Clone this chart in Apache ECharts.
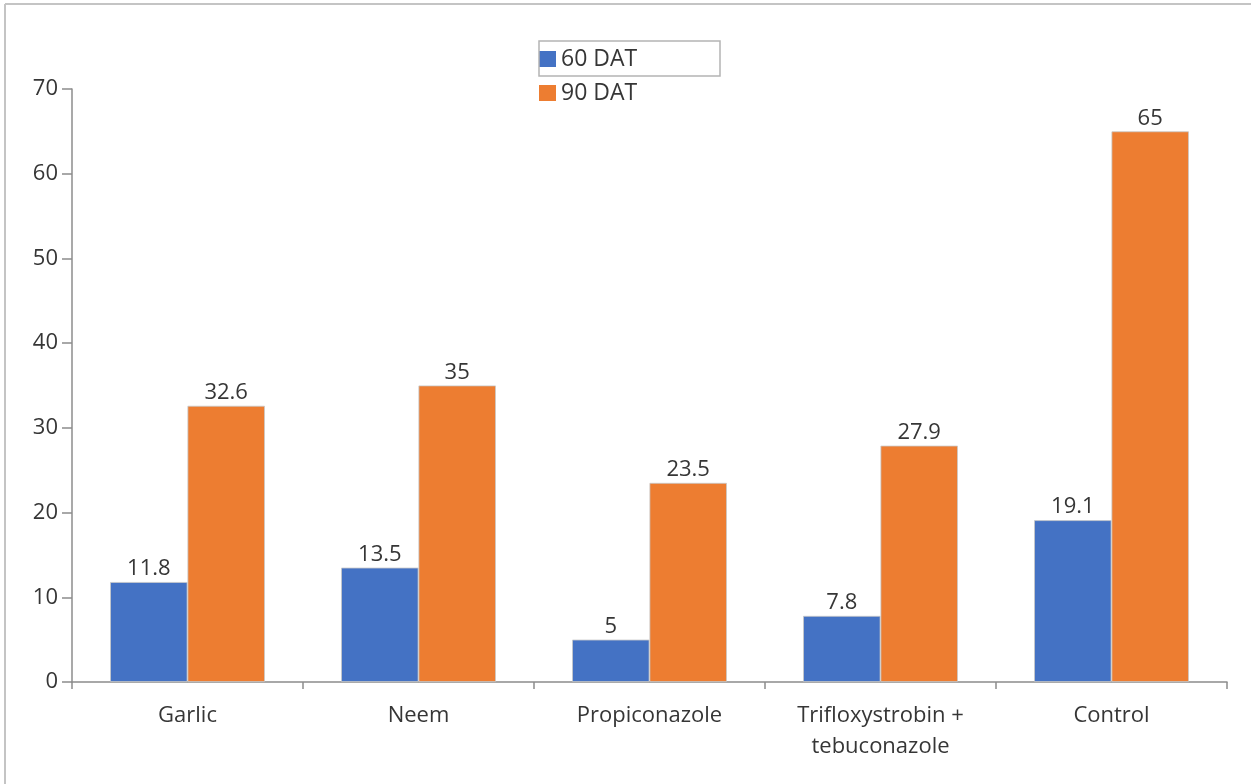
<!DOCTYPE html>
<html>
<head>
<meta charset="utf-8">
<script src="https://cdn.jsdelivr.net/npm/echarts@6/dist/echarts.min.js"></script>
<style>
  html, body { margin: 0; padding: 0; background: #fff; }
  #chart { width: 1251px; height: 784px; }
</style>
</head>
<body>
<div id="chart"></div>
<script>
// Treatments and disease readings at two sampling dates
const categories = ['Garlic', 'Neem', 'Propiconazole', 'Trifloxystrobin +\ntebuconazole', 'Control'];
const dat60 = [11.8, 13.5, 5, 7.8, 19.1];
const dat90 = [32.6, 35, 23.5, 27.9, 65];
const seriesNames = ['60 DAT', '90 DAT'];

const FONT = '"Open Sans", "Noto Sans", sans-serif';
const TEXT = '#363636';
const AXIS = '#8c8c8c';
const FS = 22;

const chart = echarts.init(document.getElementById('chart'), null, { renderer: 'canvas' });

const labelStyle = {
  show: true,
  position: 'top',
  distance: 2,
  color: TEXT,
  fontFamily: FONT,
  fontSize: FS
};

chart.setOption({
  animation: false,
  backgroundColor: '#ffffff',
  grid: { left: 72, right: 24, top: 89, bottom: 102, containLabel: false },
  legend: {
    orient: 'vertical',
    left: 539,
    top: 47,
    padding: 0,
    itemGap: 10,
    itemWidth: 17,
    itemHeight: 16,
    icon: 'rect',
    data: seriesNames,
    itemStyle: { borderWidth: 0 },
    textStyle: { color: TEXT, fontFamily: FONT, fontSize: 23, lineHeight: 24, padding: [0, 0, 0, 0] }
  },
  xAxis: {
    type: 'category',
    data: categories,
    axisLine: { show: true, lineStyle: { color: AXIS, width: 1.5 } },
    axisTick: { show: true, length: 7, alignWithLabel: false, lineStyle: { color: AXIS, width: 1.5 } },
    axisLabel: { color: TEXT, fontFamily: FONT, fontSize: FS, margin: 18, lineHeight: 31, interval: 0 },
    splitLine: { show: false }
  },
  yAxis: {
    type: 'value',
    min: 0,
    max: 70,
    interval: 10,
    axisLine: { show: true, lineStyle: { color: AXIS, width: 1.5 } },
    axisTick: { show: true, length: 10, lineStyle: { color: AXIS, width: 1.5 } },
    axisLabel: { color: TEXT, fontFamily: FONT, fontSize: FS, margin: 14 },
    splitLine: { show: false }
  },
  series: [
    {
      name: seriesNames[0],
      type: 'bar',
      data: dat60,
      barGap: '0%',
      barCategoryGap: '33%',
      itemStyle: { color: '#4472C4', borderColor: '#c8c8c8', borderWidth: 0.8 },
      label: labelStyle
    },
    {
      name: seriesNames[1],
      type: 'bar',
      data: dat90,
      barGap: '0%',
      barCategoryGap: '33%',
      itemStyle: { color: '#ED7D31', borderColor: '#c8c8c8', borderWidth: 0.8 },
      label: labelStyle
    }
  ],
  graphic: [
    // frame lines along the top and left edges
    { type: 'line', shape: { x1: 5, y1: 4, x2: 1251, y2: 4 }, style: { stroke: '#c4c4c4', lineWidth: 2 }, silent: true },
    { type: 'line', shape: { x1: 5, y1: 4, x2: 5, y2: 784 }, style: { stroke: '#c4c4c4', lineWidth: 2 }, silent: true },
    // box around the first legend entry
    { type: 'rect', shape: { x: 539, y: 41, width: 181, height: 35 }, style: { fill: 'none', stroke: '#b4b4b4', lineWidth: 1.5 }, silent: true, z: 100 }
  ]
});
</script>
</body>
</html>
